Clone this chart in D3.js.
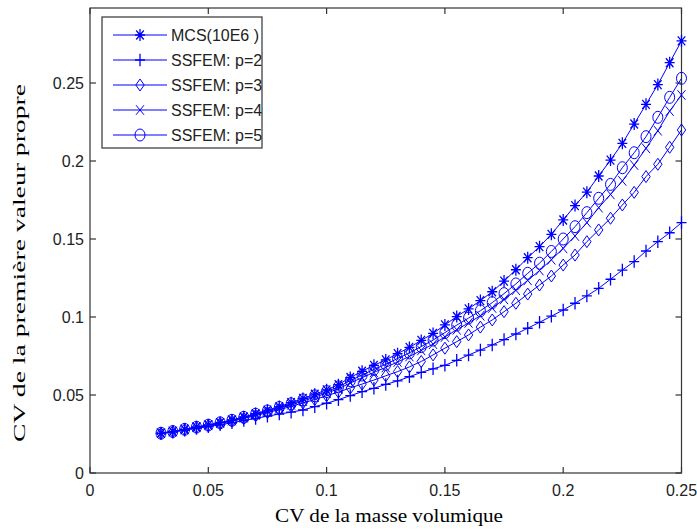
<!DOCTYPE html>
<html><head><meta charset="utf-8">
<script src="https://cdn.jsdelivr.net/npm/d3@7"></script>
<style>html,body{margin:0;padding:0;background:#fff;}svg{display:block;}</style>
</head><body>
<svg id="chart" width="697" height="531"></svg>
<script>
const xValues = [0.030,0.035,0.040,0.045,0.050,0.055,0.060,0.065,0.070,0.075,0.080,0.085,0.090,0.095,0.100,0.105,0.110,0.115,0.120,0.125,0.130,0.135,0.140,0.145,0.150,0.155,0.160,0.165,0.170,0.175,0.180,0.185,0.190,0.195,0.200,0.205,0.210,0.215,0.220,0.225,0.230,0.235,0.240,0.245,0.250];
const mcs = [0.0255,0.0266,0.0280,0.0295,0.0308,0.0323,0.0340,0.0360,0.0381,0.0403,0.0426,0.0451,0.0478,0.0505,0.0533,0.0566,0.0612,0.0652,0.0690,0.0725,0.0765,0.0805,0.0850,0.0895,0.0949,0.1003,0.1052,0.1105,0.1162,0.1230,0.1303,0.1380,0.1451,0.1530,0.1622,0.1714,0.1800,0.1904,0.2006,0.2113,0.2237,0.2363,0.2490,0.2630,0.2770];
const p2 = [0.0253,0.0262,0.0274,0.0286,0.0297,0.0309,0.0322,0.0336,0.0350,0.0364,0.0378,0.0390,0.0404,0.0425,0.0447,0.0470,0.0496,0.0521,0.0543,0.0568,0.0590,0.0617,0.0645,0.0668,0.0690,0.0722,0.0756,0.0788,0.0821,0.0855,0.0891,0.0928,0.0966,0.1005,0.1045,0.1088,0.1135,0.1184,0.1242,0.1301,0.1355,0.1423,0.1483,0.1540,0.1605];
const p3 = [0.0254,0.0265,0.0278,0.0292,0.0304,0.0318,0.0333,0.0350,0.0368,0.0387,0.0406,0.0427,0.0449,0.0471,0.0495,0.0519,0.0545,0.0570,0.0596,0.0623,0.0650,0.0680,0.0715,0.0757,0.0800,0.0842,0.0885,0.0935,0.0981,0.1034,0.1088,0.1147,0.1205,0.1263,0.1333,0.1397,0.1483,0.1558,0.1633,0.1718,0.1799,0.1900,0.1979,0.2088,0.2199];
const p4 = [0.0255,0.0266,0.0279,0.0293,0.0306,0.0320,0.0336,0.0354,0.0373,0.0393,0.0414,0.0437,0.0461,0.0486,0.0512,0.0540,0.0577,0.0611,0.0645,0.0677,0.0712,0.0747,0.0786,0.0826,0.0872,0.0918,0.0962,0.1008,0.1058,0.1113,0.1172,0.1235,0.1298,0.1367,0.1440,0.1519,0.1605,0.1701,0.1786,0.1872,0.1974,0.2081,0.2194,0.2320,0.2423];
const p5 = [0.0255,0.0266,0.0280,0.0294,0.0307,0.0322,0.0338,0.0357,0.0377,0.0398,0.0420,0.0444,0.0469,0.0495,0.0522,0.0552,0.0592,0.0628,0.0664,0.0697,0.0734,0.0770,0.0810,0.0852,0.0900,0.0948,0.0993,0.1040,0.1092,0.1150,0.1212,0.1280,0.1345,0.1420,0.1500,0.1579,0.1669,0.1761,0.1850,0.1957,0.2053,0.2156,0.2280,0.2408,0.2530];
const seriesNames = ["MCS(10E6 )","SSFEM:  p=2","SSFEM:  p=3","SSFEM:  p=4","SSFEM:  p=5"];
const markerTypes = ["star","plus","diamond","cross","circle"];
const xTicks = [0,0.05,0.1,0.15,0.2,0.25];
const xTickLabels = ["0","0.05","0.1","0.15","0.2","0.25"];
const yTicks = [0,0.05,0.1,0.15,0.2,0.25];
const yTickLabels = ["0","0.05","0.1","0.15","0.2","0.25"];
const xLabel = "CV de la masse volumique";
const yLabel = "CV de la première valeur propre";

const series = [mcs,p2,p3,p4,p5].map((vals,i)=>({name:seriesNames[i],marker:markerTypes[i],values:vals.map((v,j)=>({x:xValues[j],y:v}))}));

const W=697,H=531;
const L=90,R=681.5,T=8,B=473;
const blue="#0000ff", axisCol="#333333";
const svg=d3.select("#chart");
const x=d3.scaleLinear().domain([0,0.25]).range([L,R]);
const y=d3.scaleLinear().domain([0,(B-T)/1560]).range([B,T]);

function drawMarker(g,type,cx,cy){
  const s=5;
  if(type==="star"){
    g.append("path").attr("d",`M${cx-s},${cy}H${cx+s}M${cx},${cy-s*1.2}V${cy+s*1.2}M${cx-s*0.75},${cy-s*0.9}L${cx+s*0.75},${cy+s*0.9}M${cx-s*0.75},${cy+s*0.9}L${cx+s*0.75},${cy-s*0.9}`)
      .attr("stroke",blue).attr("stroke-width",1.3).attr("fill","none");
  } else if(type==="plus"){
    g.append("path").attr("d",`M${cx-s},${cy}H${cx+s}M${cx},${cy-s*1.25}V${cy+s*1.25}`)
      .attr("stroke",blue).attr("stroke-width",1.3).attr("fill","none");
  } else if(type==="diamond"){
    g.append("path").attr("d",`M${cx},${cy-6}L${cx+4.2},${cy}L${cx},${cy+6}L${cx-4.2},${cy}Z`)
      .attr("stroke",blue).attr("stroke-width",1).attr("fill","none");
  } else if(type==="cross"){
    g.append("path").attr("d",`M${cx-4},${cy-4.8}L${cx+4},${cy+4.8}M${cx-4},${cy+4.8}L${cx+4},${cy-4.8}`)
      .attr("stroke",blue).attr("stroke-width",1).attr("fill","none");
  } else if(type==="circle"){
    g.append("ellipse").attr("cx",cx).attr("cy",cy).attr("rx",5).attr("ry",6)
      .attr("stroke",blue).attr("stroke-width",1).attr("fill","none");
  }
}

// axes box
svg.append("rect").attr("x",L).attr("y",T).attr("width",R-L).attr("height",B-T).attr("fill","#fff").attr("stroke",axisCol).attr("stroke-width",1.2);

// ticks (inside, all four sides)
const tk=svg.append("g").attr("stroke",axisCol).attr("stroke-width",1.2);
xTicks.forEach(t=>{tk.append("line").attr("x1",x(t)).attr("x2",x(t)).attr("y1",B).attr("y2",B-6);
  tk.append("line").attr("x1",x(t)).attr("x2",x(t)).attr("y1",T).attr("y2",T+6);});
yTicks.forEach(t=>{tk.append("line").attr("x1",L).attr("x2",L+6).attr("y1",y(t)).attr("y2",y(t));
  tk.append("line").attr("x1",R).attr("x2",R-6).attr("y1",y(t)).attr("y2",y(t));});

// tick labels
const tf="'Liberation Sans', Arial, sans-serif";
xTicks.forEach((t,i)=>{svg.append("text").attr("x",x(t)).attr("y",496).attr("text-anchor","middle")
  .attr("font-family",tf).attr("font-size",16).attr("fill","#222").text(xTickLabels[i]);});
yTicks.forEach((t,i)=>{svg.append("text").attr("x",84).attr("y",y(t)+6).attr("text-anchor","end")
  .attr("font-family",tf).attr("font-size",16).attr("fill","#222").text(yTickLabels[i]);});

// axis labels
const sf="'Liberation Serif','Times New Roman',serif";
svg.append("text").attr("x",389).attr("y",522).attr("text-anchor","middle").attr("font-family",sf).attr("font-size",19)
  .attr("textLength",228).attr("lengthAdjust","spacingAndGlyphs").attr("fill","#000").text(xLabel);
svg.append("text").attr("transform",`translate(25,${263}) rotate(-90)`).attr("text-anchor","middle").attr("font-family",sf).attr("font-size",17)
  .attr("textLength",358).attr("lengthAdjust","spacingAndGlyphs").attr("fill","#000").text(yLabel);

// lines
const line=d3.line().x(d=>x(d.x)).y(d=>y(d.y));
const plot=svg.append("g");
series.forEach(s=>{
  plot.append("path").datum(s.values).attr("d",line).attr("fill","none").attr("stroke",blue).attr("stroke-width",1);
  const mg=plot.append("g");
  s.values.forEach(d=>drawMarker(mg,s.marker,x(d.x),y(d.y)));
});

// legend
const lg=svg.append("g");
lg.append("rect").attr("x",102).attr("y",17).attr("width",160).attr("height",131).attr("fill","#fff").attr("stroke",axisCol).attr("stroke-width",1.2);
series.forEach((s,i)=>{
  const ry=35+i*25;
  lg.append("line").attr("x1",113).attr("x2",167).attr("y1",ry).attr("y2",ry).attr("stroke",blue).attr("stroke-width",1);
  drawMarker(lg,s.marker,140,ry);
  lg.append("text").attr("x",171).attr("y",ry+6).attr("font-family",tf).attr("font-size",16).attr("fill","#222").text(s.name);
});
</script>
</body></html>
